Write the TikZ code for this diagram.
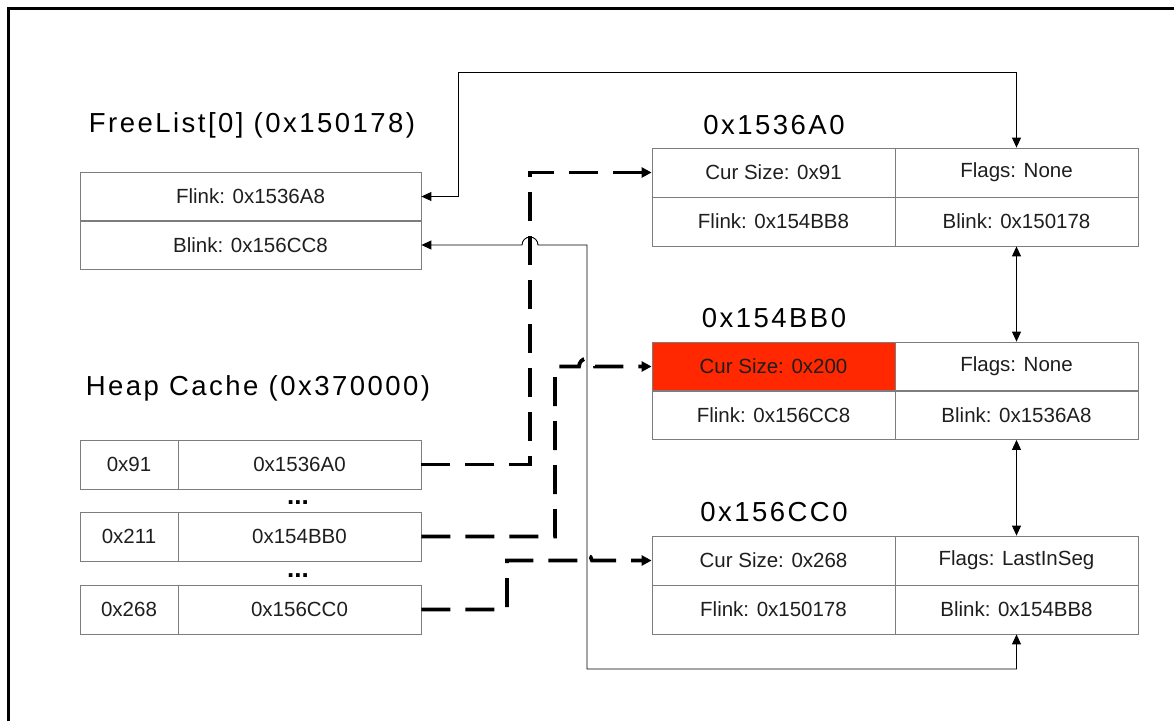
\documentclass[tikz,border=0pt]{standalone}
\usepackage{fontspec}
\setmainfont{Liberation Sans}
\newfontfamily\titlefont[LetterSpace=9]{Liberation Sans}
\usetikzlibrary{arrows.meta}
\definecolor{cellline}{RGB}{125,125,125}
\definecolor{hot}{RGB}{255,40,0}
\definecolor{txt}{RGB}{30,30,30}
\begin{document}
\begin{tikzpicture}[x=1pt,y=-1pt,
  cell/.style={draw=cellline,line width=0.8pt,inner sep=0pt,minimum height=49pt,
    text=txt,font=\fontsize{20.5}{22}\selectfont},
  wide/.style={cell,minimum width=341pt},
  half/.style={cell,minimum width=243pt},
  keyc/.style={cell,minimum width=98pt},
  heading/.style={inner sep=0pt,text=black,font=\titlefont\fontsize{27.5}{30}\selectfont},
  dotsn/.style={inner sep=0pt,font=\fontsize{26}{26}\selectfont\bfseries},
  link/.style={line width=0.9pt,-{Triangle[length=10pt,width=9pt]}},
  biline/.style={line width=0.9pt,{Triangle[length=10pt,width=9pt]}-{Triangle[length=10pt,width=9pt]}},
  ptr/.style={line width=3.8pt,dash pattern=on 29pt off 15pt,-{Triangle[length=10pt,width=10pt]}}
]
\useasboundingbox (0,0) rectangle (1174,721);
\draw[line width=2.6pt] (8.5,721) -- (8.5,8.5) -- (1174,8.5);

% FreeList
\node[heading] (flt) at (252,125) {FreeList[0] (0x150178)};
\node[wide] (fl) at (250.5,196.5) {Flink: 0x1536A8};
\node[wide] (bl) at (250.5,245) {Blink: 0x156CC8};

% Heap cache
\node[heading] (hct) at (258,388) {Heap Cache (0x370000)};
\node[keyc] (hk1) at (129,464.5) {0x91};
\node[half] (hv1) at (299.5,464.5) {0x1536A0};
\node[dotsn] (dots1) at (298,503) {...};
\node[keyc] (hk2) at (129,536.5) {0x211};
\node[half] (hv2) at (299.5,536.5) {0x154BB0};
\node[dotsn] (dots2) at (298,576) {...};
\node[keyc] (hk3) at (129,609.5) {0x268};
\node[half] (hv3) at (299.5,609.5) {0x156CC0};

% Chunk 1
\node[heading] (t1) at (774,125) {0x1536A0};
\node[half] (c1) at (773.5,172.5) {Cur Size: 0x91};
\node[half] (g1) at (1016.5,172.5) {Flags: None};
\node[half] (f1) at (773.5,221.5) {Flink: 0x154BB8};
\node[half] (b1) at (1016.5,221.5) {Blink: 0x150178};

% Chunk 2
\node[heading] (t2) at (774,318) {0x154BB0};
\node[half,fill=hot] (c2) at (773.5,366.5) {Cur Size: 0x200};
\node[half] (g2) at (1016.5,366.5) {Flags: None};
\node[half] (f2) at (773.5,415) {Flink: 0x156CC8};
\node[half] (b2) at (1016.5,415) {Blink: 0x1536A8};

% Chunk 3
\node[heading] (t3) at (774,512) {0x156CC0};
\node[half] (c3) at (773.5,560.5) {Cur Size: 0x268};
\node[half] (g3) at (1016.5,560.5) {Flags: LastInSeg};
\node[half] (f3) at (773.5,609.5) {Flink: 0x150178};
\node[half] (b3) at (1016.5,609.5) {Blink: 0x154BB8};

% solid links
\coordinate (topbend) at (458,72);
\draw[biline] (fl.east) -| (topbend) -| (g1.north);
\draw[biline] (b1.south) -- (g2.north);
\draw[biline] (b2.south) -- (g3.north);
\coordinate (botbend) at (587,669);
\draw[biline] (b3.south) |- (botbend) -- (587,245) -- (538,245)
  arc[start angle=0,end angle=-180,radius=8] -- (bl.east);

% dashed pointers
\draw[ptr] (hv1.east) -- (530,464.5) -- (530,172.5) -- (c1.west);
\draw[ptr] (hv2.east) -- (555,536.5) -- (555,366.5) -- (579,366.5)
  arc[start angle=180,end angle=360,radius=8] -- (c2.west);
\draw[ptr] (hv3.east) -- (507,609.5) -- (507,560.5) -- (582,560.5)
  arc[start angle=180,end angle=360,radius=5] -- (c3.west);
\end{tikzpicture}
\end{document}
